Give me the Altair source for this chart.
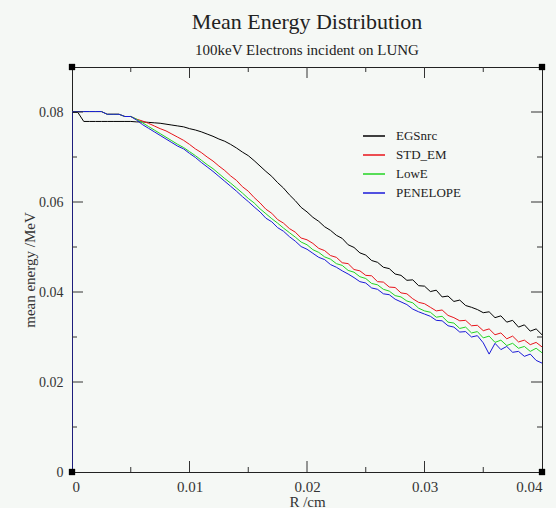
import altair as alt
import pandas as pd

# ---- data ----
series_names = ["EGSnrc", "STD_EM", "LowE", "PENELOPE"]
series_colors = ["#000000", "#e8141a", "#22d422", "#1a1ad8"]

r_grid = [round(i * 0.0005, 4) for i in range(81)]

egsnrc = [0.0799, 0.0799, 0.0779, 0.0779, 0.0779, 0.0779, 0.0779, 0.0779, 0.0779, 0.0779,
          0.0779, 0.0778, 0.0778, 0.0777, 0.0776, 0.0775, 0.0773, 0.0771, 0.0769, 0.0767,
          0.0763, 0.0760, 0.0756, 0.0751, 0.0746, 0.0740, 0.0735, 0.0728, 0.0720, 0.0711,
          0.0703, 0.0692, 0.0680, 0.0668, 0.0657, 0.0643, 0.0631, 0.0616, 0.0603, 0.0588,
          0.0578, 0.0566, 0.0557, 0.0545, 0.0537, 0.0526, 0.0519, 0.0505, 0.0499, 0.0487,
          0.0482, 0.0470, 0.0466, 0.0455, 0.0452, 0.0440, 0.0437, 0.0426, 0.0427, 0.0414,
          0.0413, 0.0401, 0.0404, 0.0389, 0.0391, 0.0379, 0.0382, 0.0370, 0.0366, 0.0361,
          0.0354, 0.0356, 0.0343, 0.0347, 0.0333, 0.0337, 0.0322, 0.0327, 0.0313, 0.0318,
          0.0305]

std_em = [0.0801, 0.0801, 0.0801, 0.0801, 0.0801, 0.0801, 0.0795, 0.0795, 0.0795, 0.0790,
          0.0790, 0.0784, 0.0780, 0.0775, 0.0769, 0.0763, 0.0758, 0.0751, 0.0744, 0.0737,
          0.0728, 0.0718, 0.0710, 0.0700, 0.0691, 0.0680, 0.0670, 0.0658, 0.0648, 0.0634,
          0.0624, 0.0610, 0.0598, 0.0584, 0.0575, 0.0561, 0.0553, 0.0541, 0.0533, 0.0520,
          0.0516, 0.0508, 0.0497, 0.0492, 0.0481, 0.0477, 0.0465, 0.0463, 0.0450, 0.0447,
          0.0437, 0.0436, 0.0423, 0.0422, 0.0411, 0.0410, 0.0398, 0.0396, 0.0385, 0.0377,
          0.0374, 0.0366, 0.0358, 0.0360, 0.0348, 0.0343, 0.0336, 0.0337, 0.0325, 0.0326,
          0.0314, 0.0318, 0.0305, 0.0309, 0.0296, 0.0302, 0.0289, 0.0293, 0.0283, 0.0288,
          0.0278]

lowe = [0.0801, 0.0801, 0.0801, 0.0801, 0.0801, 0.0801, 0.0795, 0.0795, 0.0795, 0.0790,
        0.0790, 0.0784, 0.0776, 0.0768, 0.0760, 0.0752, 0.0744, 0.0736, 0.0728, 0.0721,
        0.0712, 0.0703, 0.0693, 0.0683, 0.0674, 0.0663, 0.0652, 0.0642, 0.0631, 0.0620,
        0.0608, 0.0598, 0.0585, 0.0574, 0.0563, 0.0553, 0.0542, 0.0532, 0.0522, 0.0511,
        0.0505, 0.0494, 0.0488, 0.0478, 0.0473, 0.0463, 0.0459, 0.0448, 0.0444, 0.0434,
        0.0430, 0.0419, 0.0416, 0.0406, 0.0402, 0.0392, 0.0389, 0.0380, 0.0376, 0.0364,
        0.0358, 0.0355, 0.0344, 0.0346, 0.0333, 0.0331, 0.0319, 0.0322, 0.0309, 0.0312,
        0.0298, 0.0302, 0.0288, 0.0293, 0.0281, 0.0286, 0.0275, 0.0279, 0.0268, 0.0275,
        0.0265]

penelope = [0.0801, 0.0801, 0.0801, 0.0801, 0.0801, 0.0801, 0.0795, 0.0795, 0.0795, 0.0790,
            0.0790, 0.0782, 0.0772, 0.0764, 0.0756, 0.0748, 0.0740, 0.0732, 0.0724, 0.0718,
            0.0708, 0.0699, 0.0688, 0.0678, 0.0668, 0.0657, 0.0646, 0.0635, 0.0624, 0.0612,
            0.0601, 0.0589, 0.0578, 0.0564, 0.0556, 0.0543, 0.0535, 0.0523, 0.0513, 0.0501,
            0.0495, 0.0486, 0.0477, 0.0472, 0.0461, 0.0455, 0.0447, 0.0440, 0.0432, 0.0423,
            0.0420, 0.0409, 0.0406, 0.0396, 0.0394, 0.0384, 0.0378, 0.0372, 0.0362, 0.0356,
            0.0351, 0.0346, 0.0337, 0.0336, 0.0325, 0.0322, 0.0311, 0.0312, 0.0300, 0.0303,
            0.0287, 0.0262, 0.0286, 0.0272, 0.0279, 0.0266, 0.0268, 0.0257, 0.0262, 0.0248,
            0.0242]

x_ticks = [0, 0.01, 0.02, 0.03, 0.04]
y_ticks = [0, 0.02, 0.04, 0.06, 0.08]
x_major = [0.01, 0.02, 0.03]
x_minor = [0.005, 0.015, 0.025, 0.035]
y_major = [0.02, 0.04, 0.06, 0.08]
y_minor = [0.01, 0.03, 0.05, 0.07]
corner_x = [0, 0.04, 0, 0.04]
corner_y = [0, 0, 0.09, 0.09]

# ---- build tables ----
rows = []
for name, vals in zip(series_names, [egsnrc, std_em, lowe, penelope]):
    k = 0
    if name == "PENELOPE":
        rows.append({"series": name, "R": 0.0, "E": 0.0, "k": k})
        k += 1
    for r, e in zip(r_grid, vals):
        rows.append({"series": name, "R": r, "E": e, "k": k})
        k += 1
df = pd.DataFrame(rows)

W, H = 470, 405
FONT = "Liberation Serif"
xscale = alt.Scale(domain=[0, 0.04], nice=False, zero=False)
yscale = alt.Scale(domain=[0, 0.09], nice=False, zero=False)

xaxis = alt.Axis(values=x_ticks, format="~g", ticks=False, domain=False, grid=False,
                 labelFont=FONT, labelFontSize=15, labelColor="#333", labelPadding=7,
                 title="R /cm", titleFont=FONT, titleFontSize=15, titleFontWeight="normal",
                 titleColor="#333", titlePadding=0)
yaxis = alt.Axis(values=y_ticks, format="~g", ticks=False, domain=False, grid=False,
                 labelFont=FONT, labelFontSize=14, labelColor="#333", labelPadding=9,
                 title="mean energy /MeV", titleFont=FONT, titleFontSize=15,
                 titleFontWeight="normal", titleColor="#333", titlePadding=1)

lines = alt.Chart(df).mark_line(interpolate="linear", strokeWidth=1, clip=True).encode(
    x=alt.X("R:Q", scale=xscale, axis=xaxis),
    y=alt.Y("E:Q", scale=yscale, axis=yaxis),
    color=alt.Color("series:N", scale=alt.Scale(domain=series_names, range=series_colors),
                    sort=series_names,
                    legend=alt.Legend(title=None, orient="none", legendX=290, legendY=57,
                                      symbolType="stroke", symbolSize=484, symbolStrokeWidth=1.5,
                                      labelFont=FONT, labelFontSize=13, labelColor="#222",
                                      labelOffset=10, rowPadding=-3, padding=0)),
    order=alt.Order("k:Q"),
)

def xrule(vals, top, length):
    d = pd.DataFrame({"R": vals})
    if top:
        enc = dict(y=alt.value(0), y2=alt.value(length))
    else:
        enc = dict(y=alt.value(H), y2=alt.value(H - length))
    return alt.Chart(d).mark_rule(color="#333", strokeWidth=1).encode(
        x=alt.X("R:Q", scale=xscale, axis=xaxis), **enc)

def yrule(vals, right, length):
    d = pd.DataFrame({"E": vals})
    if right:
        enc = dict(x=alt.value(W), x2=alt.value(W - length))
    else:
        enc = dict(x=alt.value(0), x2=alt.value(length))
    return alt.Chart(d).mark_rule(color="#333", strokeWidth=1).encode(
        y=alt.Y("E:Q", scale=yscale, axis=yaxis), **enc)

ticks = [xrule(x_major, False, 11), xrule(x_minor, False, 5),
         xrule(x_major, True, 11), xrule(x_minor, True, 5),
         yrule(y_major, False, 11), yrule(y_minor, False, 5),
         yrule(y_major, True, 11), yrule(y_minor, True, 5)]

corners = alt.Chart(pd.DataFrame({"R": corner_x, "E": corner_y})).mark_square(
    size=40, color="#000", opacity=1, filled=True).encode(
    x=alt.X("R:Q", scale=xscale, axis=xaxis),
    y=alt.Y("E:Q", scale=yscale, axis=yaxis))

chart = alt.layer(lines, *ticks, corners).properties(
    width=W, height=H,
    title=alt.TitleParams(text="Mean Energy Distribution",
                          subtitle="100keV Electrons incident on LUNG",
                          font=FONT, fontSize=22, fontWeight="normal", color="#222",
                          subtitleFont=FONT, subtitleFontSize=15, subtitleColor="#222",
                          anchor="middle", offset=5, subtitlePadding=9),
    autosize=alt.AutoSizeParams(type="none"),
    padding={"left": 72, "top": 67, "right": 14, "bottom": 36},
    background="#f5f8f5",
).configure_view(stroke="#222", strokeWidth=1, fill="#f5f8f5")

chart.save("out.html", embed_options={"renderer": "svg", "actions": False})
